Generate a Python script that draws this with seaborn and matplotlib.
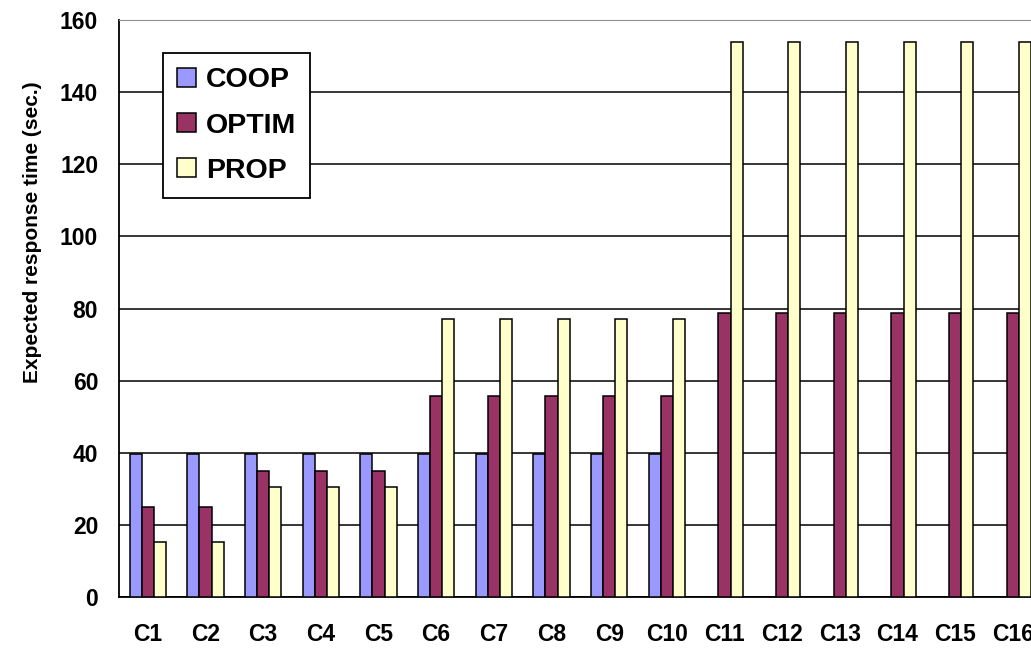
import matplotlib
matplotlib.use("Agg")
import matplotlib.pyplot as plt
import seaborn as sns
import pandas as pd

categories = [f"C{i}" for i in range(1, 17)]
coop = [39.6] * 10 + [0] * 6
optim = [25, 25, 35, 35, 35, 55.7, 55.7, 55.7, 55.7, 55.7,
         78.7, 78.7, 78.7, 78.7, 78.7, 78.7]
prop = [15.3, 15.3, 30.6, 30.6, 30.6, 77, 77, 77, 77, 77,
        154, 154, 154, 154, 154, 154]
series_names = ["COOP", "OPTIM", "PROP"]
series_colors = ["#9999FF", "#993366", "#FFFFCC"]
y_ticks = [0, 20, 40, 60, 80, 100, 120, 140, 160]

df = pd.DataFrame({
    "category": categories * 3,
    "series": [s for s in series_names for _ in categories],
    "value": coop + optim + prop,
})

sns.set_style("white")
plt.rcParams["font.family"] = ["Liberation Sans", "DejaVu Sans"]
plt.rcParams["font.weight"] = "bold"
for key in ["text.color", "axes.labelcolor", "xtick.color", "ytick.color"]:
    plt.rcParams[key] = "black"

fig = plt.figure(figsize=(10.31, 6.49), dpi=100)
ax = fig.add_axes([0.1154, 0.0801, 0.895, 0.889])

sns.barplot(data=df, x="category", y="value", hue="series",
            order=categories, hue_order=series_names,
            palette=series_colors, edgecolor="black", linewidth=1.1,
            width=0.63, saturation=1, ax=ax, zorder=3)

ax.set_xlim(-0.5, len(categories) - 0.5)
ax.set_ylim(0, 160)
ax.set_yticks(y_ticks)
ax.set_yticklabels([str(t) for t in y_ticks], fontsize=16.5, fontweight="bold")
ax.set_xticks(range(len(categories)))
ax.set_xticklabels(categories, fontsize=16.5, fontweight="bold")
ax.set_xticks([i - 0.5 for i in range(len(categories) + 1)], minor=True)
ax.tick_params(axis="x", which="major", length=0, pad=19)
ax.tick_params(axis="x", which="minor", length=6, width=1.2,
               direction="out", color="black")
ax.tick_params(axis="y", length=6, width=1.2, direction="out",
               color="black", pad=9)

ax.yaxis.grid(True, color="black", linewidth=1.1, zorder=0)
ax.get_ygridlines()[-1].set_color("#909090")
ax.set_axisbelow(True)

for side in ["left", "bottom"]:
    ax.spines[side].set_color("black")
    ax.spines[side].set_linewidth(1.3)
ax.spines["right"].set_visible(False)
ax.spines["top"].set_color("#909090")

ax.set_xlabel("")
ax.set_ylabel("Expected response time (sec.)", fontsize=15, fontweight="bold")
ax.yaxis.set_label_coords(-0.083, 0.633)

handles, labels = ax.get_legend_handles_labels()
leg = ax.legend(handles, labels, loc="upper left",
                bbox_to_anchor=(0.0477, 0.943), frameon=True, fancybox=False,
                shadow=False, edgecolor="black", framealpha=1,
                prop={"size": 20.5, "weight": "bold"},
                handlelength=0.65, handleheight=0.65, handletextpad=0.35,
                labelspacing=0.68, borderpad=0.5, borderaxespad=0)
leg.get_frame().set_linewidth(1.3)

fig.savefig("out.png", dpi=100)
